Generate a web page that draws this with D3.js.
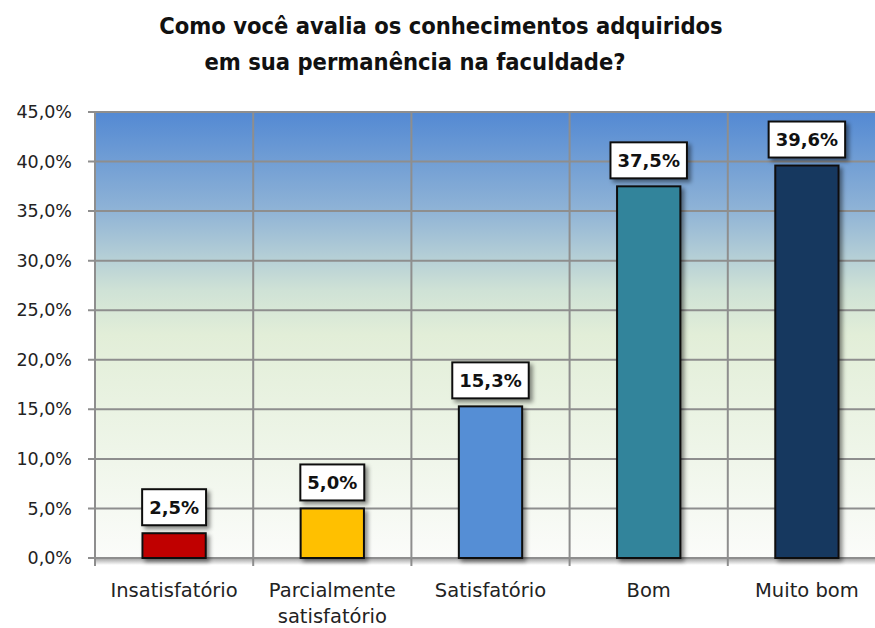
<!DOCTYPE html>
<html>
<head>
<meta charset="utf-8">
<script src="https://d3js.org/d3.v7.min.js"></script>
<style>
  body { margin: 0; background: #fff; }
  svg { display: block; }
</style>
</head>
<body>
<div id="chart"></div>
<script>
// data
const categories = ["Insatisfatório", "Parcialmente\nsatisfatório", "Satisfatório", "Bom", "Muito bom"];
const values = [2.5, 5.0, 15.3, 37.5, 39.6];
const barColors = ["#c00000", "#ffc000", "#558ed5", "#31849b", "#17375e"];
const yTicks = [0, 5, 10, 15, 20, 25, 30, 35, 40, 45];
const titleLines = ["Como você avalia os conhecimentos adquiridos", "em sua permanência na faculdade?"];

const width = 875, height = 628;
const plot = { left: 95, right: 886, top: 112, bottom: 558 };
const fmt = v => d3.format(".1f")(v).replace(".", ",") + "%";

const svg = d3.select("#chart").append("svg")
  .attr("width", width)
  .attr("height", height);

const defs = svg.append("defs");

// plot area background: blue at top fading to pale green / white
const bg = defs.append("linearGradient")
  .attr("id", "bg").attr("x1", 0).attr("y1", 0).attr("x2", 0).attr("y2", 1);
[["0%", "#5389d3"], ["22%", "#8fb3d6"], ["40%", "#cfe2d6"], ["50%", "#e2eed8"], ["75%", "#eef5e8"], ["100%", "#fbfcfa"]]
  .forEach(s => bg.append("stop").attr("offset", s[0]).attr("stop-color", s[1]));

const shadow = defs.append("filter").attr("id", "shadow")
  .attr("x", "-20%").attr("y", "-20%").attr("width", "150%").attr("height", "150%");
shadow.append("feDropShadow").attr("dx", 3).attr("dy", 3).attr("stdDeviation", 2)
  .attr("flood-color", "#000").attr("flood-opacity", 0.45);

const axShadow = defs.append("linearGradient")
  .attr("id", "axshadow").attr("x1", 0).attr("y1", 0).attr("x2", 0).attr("y2", 1);
axShadow.append("stop").attr("offset", "0%").attr("stop-color", "#888").attr("stop-opacity", 0.7);
axShadow.append("stop").attr("offset", "100%").attr("stop-color", "#888").attr("stop-opacity", 0);

const x = d3.scaleBand().domain(categories).range([plot.left, plot.right]);
const y = d3.scaleLinear().domain([0, 45]).range([plot.bottom, plot.top]);

// title
const titleFont = "'DejaVu Sans Condensed', 'DejaVu Sans', sans-serif";
svg.append("text")
  .attr("x", 441).attr("y", 34)
  .attr("text-anchor", "middle")
  .style("font-family", titleFont)
  .style("font-weight", "bold").style("font-size", "23.5px").style("fill", "#111")
  .text(titleLines[0]);
svg.append("text")
  .attr("x", 415).attr("y", 70)
  .attr("text-anchor", "middle")
  .style("font-family", titleFont)
  .style("font-weight", "bold").style("font-size", "23.5px").style("fill", "#111")
  .text(titleLines[1]);

// background
svg.append("rect")
  .attr("x", plot.left).attr("y", plot.top)
  .attr("width", plot.right - plot.left).attr("height", plot.bottom - plot.top)
  .attr("fill", "url(#bg)");

// horizontal grid + left ticks
svg.append("g").selectAll("line")
  .data(yTicks)
  .join("line")
  .attr("x1", plot.left - 7).attr("x2", plot.right)
  .attr("y1", d => y(d)).attr("y2", d => y(d))
  .attr("stroke", "#8e8e8e").attr("stroke-width", 2);

// vertical grid at category boundaries
const bounds = categories.map(c => x(c)).concat([plot.right]);
svg.append("g").selectAll("line")
  .data(bounds)
  .join("line")
  .attr("x1", d => d).attr("x2", d => d)
  .attr("y1", plot.top).attr("y2", plot.bottom + 8)
  .attr("stroke", "#8e8e8e").attr("stroke-width", 2);

// shadow under x axis
svg.append("rect")
  .attr("x", plot.left).attr("y", plot.bottom + 1)
  .attr("width", plot.right - plot.left).attr("height", 6)
  .attr("fill", "url(#axshadow)");

// y tick labels
svg.append("g").selectAll("text")
  .data(yTicks)
  .join("text")
  .attr("x", 72).attr("y", d => y(d))
  .attr("dy", "0.35em")
  .attr("text-anchor", "end")
  .style("font-family", "'DejaVu Sans', sans-serif")
  .style("font-size", "17.5px").style("fill", "#222")
  .text(d => fmt(d));

// bars
const barW = x.bandwidth() * 0.4;
svg.append("g").selectAll("rect")
  .data(values)
  .join("rect")
  .attr("x", (d, i) => x(categories[i]) + (x.bandwidth() - barW) / 2)
  .attr("y", d => y(d))
  .attr("width", barW)
  .attr("height", d => y(0) - y(d))
  .attr("fill", (d, i) => barColors[i])
  .attr("stroke", "#111").attr("stroke-width", 2)
  .attr("filter", "url(#shadow)");

// data labels in boxes
const lab = svg.append("g").selectAll("g")
  .data(values)
  .join("g")
  .attr("transform", (d, i) => `translate(${x(categories[i]) + x.bandwidth() / 2},${y(d) - 26})`);

lab.append("text")
  .attr("text-anchor", "middle").attr("dy", "0.36em")
  .style("font-family", "'DejaVu Sans', sans-serif")
  .style("font-weight", "bold").style("font-size", "18px").style("fill", "#111")
  .text(d => fmt(d));

lab.each(function() {
  const g = d3.select(this);
  const w = g.select("text").node().getComputedTextLength() + 14;
  g.insert("rect", "text")
    .attr("x", -w / 2).attr("y", -18)
    .attr("width", w).attr("height", 36)
    .attr("fill", "#fff").attr("stroke", "#111").attr("stroke-width", 2)
    .attr("filter", "url(#shadow)");
});

// category labels
svg.append("g").selectAll("text")
  .data(categories)
  .join("text")
  .attr("x", d => x(d) + x.bandwidth() / 2)
  .attr("y", 597)
  .attr("text-anchor", "middle")
  .style("font-family", "'DejaVu Sans', sans-serif")
  .style("font-size", "19.5px").style("fill", "#222")
  .each(function(d) {
    const t = d3.select(this);
    d.split("\n").forEach((line, k) => {
      t.append("tspan")
        .attr("x", x(d) + x.bandwidth() / 2)
        .attr("dy", k === 0 ? 0 : 26)
        .text(line);
    });
  });
</script>
</body>
</html>
